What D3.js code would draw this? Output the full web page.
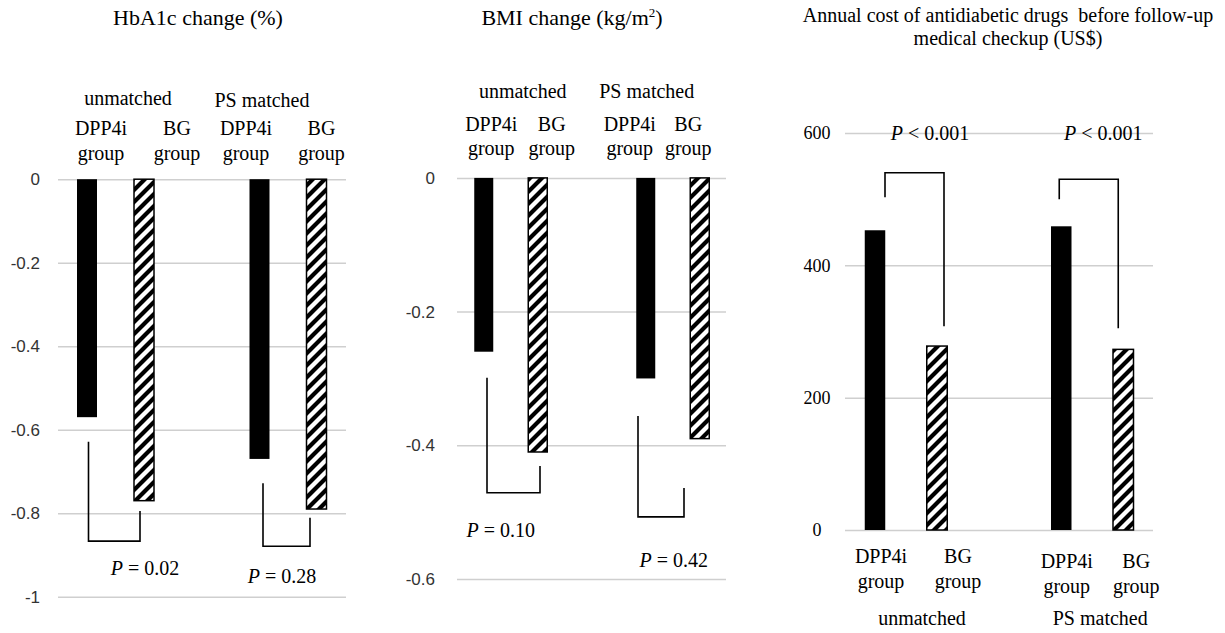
<!DOCTYPE html>
<html>
<head>
<meta charset="utf-8">
<script src="https://cdn.jsdelivr.net/npm/d3@7"></script>
<style>
body { margin: 0; background: #fff; }
svg text { font-family: "Liberation Serif", "Times New Roman", serif; fill: #000; }
</style>
</head>
<body>
<div id="chart"></div>
<script>
// values
const groups = ["unmatched", "PS matched"];
const drugs = ["DPP4i", "BG"];
const hba1cValues = [-0.57, -0.77, -0.67, -0.79];
const bmiValues = [-0.26, -0.41, -0.30, -0.39];
const costValues = [453, 278, 459, 273];
const hba1cTicks = [0, -0.2, -0.4, -0.6, -0.8, -1];
const bmiTicks = [0, -0.2, -0.4, -0.6];
const costTicks = [0, 200, 400, 600];
const hba1cP = ["= 0.02", "= 0.28"];
const bmiP = ["= 0.10", "= 0.42"];
const costP = ["< 0.001", "< 0.001"];

const svg = d3.select("#chart").append("svg")
    .attr("width", 1225)
    .attr("height", 633);

// wide upward diagonal hatch
svg.append("defs").append("pattern")
    .attr("id", "hatch")
    .attr("patternUnits", "userSpaceOnUse")
    .attr("width", 12)
    .attr("height", 12)
    .call(p => {
        p.append("rect").attr("width", 12).attr("height", 12).attr("fill", "#fff");
        p.append("path")
            .attr("d", "M-3,3 L3,-3 M0,12 L12,0 M9,15 L15,9")
            .attr("stroke", "#000")
            .attr("stroke-width", 4.2);
    });

const panels = [
    {
        title: ["HbA1c change (%)"], titleX: 198, titleY: [25], titleSize: 22,
        values: hba1cValues, ticks: hba1cTicks, pText: hba1cP,
        yDomain: [0, -1], yRange: [179.2, 596.7],
        gridX: [58, 346], tickPad: 18, sansTicks: true,
        groupRange: [115.5, 288], inner: 28.5, barW: 20,
        labelDx: [14, 33, -13.5, 5], labelY: [[135, 160], [135, 160]],
        groupDx: [12.5, -26], groupY: [105, 107],
        brackets: [
            { l: -27, r: 24.5, yl: -0.629, yr: -0.795, level: -0.867 },
            { l: -25, r: 22, yl: -0.728, yr: -0.811, level: -0.879 }
        ],
        pDx: [29.5, -6], pY: [-0.948, -0.967]
    },
    {
        title: ["BMI change (kg/m", "2", ")"], titleX: 572, titleY: [25], titleSize: 22,
        values: bmiValues, ticks: bmiTicks, pText: bmiP,
        yDomain: [0, -0.6], yRange: [177.9, 579],
        gridX: [457, 726], tickPad: 22, sansTicks: true,
        groupRange: [510.75, 672.75], inner: 27, barW: 19,
        labelDx: [7.5, 14, -16, -11.5], labelY: [[131, 155], [131, 155]],
        groupDx: [12, -26], groupY: [98, 98],
        brackets: [
            { l: -23.75, r: 29.25, yl: -0.299, yr: -0.431, level: -0.471 },
            { l: -34.75, r: 11.25, yl: -0.356, yr: -0.464, level: -0.507 }
        ],
        pDx: [-10, 1], pY: [-0.537, -0.582]
    },
    {
        title: ["Annual cost of antidiabetic drugs\u00a0 before follow-up", "medical checkup (US$)"],
        titleX: 1008, titleY: [22, 45], titleSize: 20, multiLine: true,
        values: costValues, ticks: costTicks, pText: costP,
        yDomain: [0, 600], yRange: [530, 133],
        gridX: [845, 1153], tickPad: 28, sansTicks: false,
        groupRange: [906, 1092.25], inner: 31, barW: 20.5,
        labelDx: [6, 21, 5.5, 13], labelY: [[563, 588], [568, 593]],
        groupDx: [16, 8], groupY: [625, 625],
        brackets: [
            { l: -21, r: 38, yl: 503, yr: 308, level: 540 },
            { l: -33, r: 26, yl: 500, yr: 305, level: 530 }
        ],
        pDx: [24, 11], pY: [589, 589]
    }
];

panels.forEach(drawPanel);

function drawPanel(cfg) {
    const g = svg.append("g");
    const y = d3.scaleLinear().domain(cfg.yDomain).range(cfg.yRange);
    const xg = d3.scalePoint().domain(groups).range(cfg.groupRange);
    const xi = d3.scalePoint().domain(drugs).range([-cfg.inner, cfg.inner]);

    // title
    if (cfg.multiLine) {
        cfg.title.forEach((t, i) => {
            g.append("text")
                .attr("x", cfg.titleX).attr("y", cfg.titleY[i])
                .attr("text-anchor", "middle")
                .style("font-size", cfg.titleSize + "px")
                .text(t);
        });
    } else {
        const t = g.append("text")
            .attr("x", cfg.titleX).attr("y", cfg.titleY[0])
            .attr("text-anchor", "middle")
            .style("font-size", cfg.titleSize + "px");
        t.append("tspan").text(cfg.title[0]);
        if (cfg.title.length > 1) {
            t.append("tspan").attr("dy", -8).style("font-size", "13px").text(cfg.title[1]);
            t.append("tspan").attr("dy", 8).text(cfg.title[2]);
        }
    }

    // gridlines + tick labels
    const axis = d3.axisLeft(y)
        .tickValues(cfg.ticks)
        .tickSize(-(cfg.gridX[1] - cfg.gridX[0]))
        .tickPadding(cfg.tickPad)
        .tickFormat(d => String(d));
    const ax = g.append("g")
        .attr("transform", `translate(${cfg.gridX[0]},0)`)
        .call(axis);
    ax.select(".domain").remove();
    ax.selectAll(".tick line").attr("stroke", "#cfcfcf").attr("stroke-width", 1.5);
    if (cfg.sansTicks) {
        ax.selectAll(".tick text")
            .style("font-family", "'Liberation Sans', Arial, sans-serif")
            .style("font-size", "17px")
            .style("fill", "#333");
    } else {
        ax.selectAll(".tick text")
            .attr("text-anchor", "middle")
            .style("font-size", "18px");
    }

    // bars
    const rows = cfg.values.map((v, i) => ({
        v: v, group: groups[Math.floor(i / 2)], drug: drugs[i % 2], i: i
    }));
    g.selectAll(".bar").data(rows).join("rect")
        .attr("class", "bar")
        .attr("x", d => xg(d.group) + xi(d.drug) - cfg.barW / 2)
        .attr("y", d => Math.min(y(0), y(d.v)))
        .attr("width", cfg.barW)
        .attr("height", d => Math.abs(y(d.v) - y(0)))
        .attr("fill", d => d.drug === "BG" ? "url(#hatch)" : "#000")
        .attr("stroke", d => d.drug === "BG" ? "#000" : "none")
        .attr("stroke-width", 1.5);

    // category labels
    rows.forEach(d => {
        const gi = groups.indexOf(d.group);
        const cx = xg(d.group) + xi(d.drug) + cfg.labelDx[d.i];
        const t = g.append("text")
            .attr("text-anchor", "middle")
            .style("font-size", "20px");
        t.append("tspan").attr("x", cx).attr("y", cfg.labelY[gi][0]).text(d.drug);
        t.append("tspan").attr("x", cx).attr("y", cfg.labelY[gi][1]).text("group");
    });

    groups.forEach((grp, gi) => {
        g.append("text")
            .attr("x", xg(grp) + cfg.groupDx[gi])
            .attr("y", cfg.groupY[gi])
            .attr("text-anchor", "middle")
            .style("font-size", "20px")
            .text(grp);
    });

    // significance brackets
    cfg.brackets.forEach((b, gi) => {
        const cx = xg(groups[gi]);
        g.append("path")
            .attr("d", `M${cx + b.l},${y(b.yl)} V${y(b.level)} H${cx + b.r} V${y(b.yr)}`)
            .attr("fill", "none")
            .attr("stroke", "#000")
            .attr("stroke-width", 1.6);

        const t = g.append("text")
            .attr("x", cx + cfg.pDx[gi])
            .attr("y", y(cfg.pY[gi]))
            .attr("text-anchor", "middle")
            .style("font-size", "20px");
        t.append("tspan").style("font-style", "italic").text("P");
        t.append("tspan").text(" " + cfg.pText[gi]);
    });
}
</script>
</body>
</html>
